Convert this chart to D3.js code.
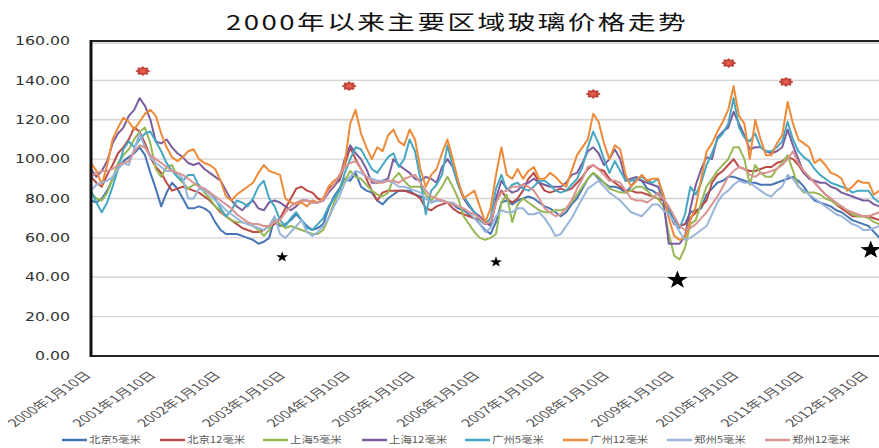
<!DOCTYPE html>
<html><head><meta charset="utf-8">
<script src="https://cdn.jsdelivr.net/npm/d3@7"></script>
<style>html,body{margin:0;padding:0;background:#fff;} svg{display:block;}</style>
</head><body><svg id="c" width="879" height="448"></svg>
<script>
const chartTitle = "2000年以来主要区域玻璃价格走势";
const seriesNames = ["北京5毫米","北京12毫米","上海5毫米","上海12毫米","广州5毫米","广州12毫米","郑州5毫米","郑州12毫米"];
const seriesColors = ["#4675B6","#BB4A46","#97B854","#7B5E9F","#45A8C3","#EE8A38","#9AB5DB","#D99492"];
const tickLabels = ["2000年1月10日","2001年1月10日","2002年1月10日","2003年1月10日","2004年1月10日","2005年1月10日","2006年1月10日","2007年1月10日","2008年1月10日","2009年1月10日","2010年1月10日","2011年1月10日","2012年1月10日"];
const yTicks = [0,20,40,60,80,100,120,140,160];

// monthly readings, Jan 2000 .. Mar 2012 (index = months since Jan 2000)
const bj5 = [
79,78,80,84,90,95,99,101,103,106,102,93,
85,76,83,88,85,80,75,75,76,75,73,68,
64,62,62,62,61,60,59,57,58,60,70,66,
67,69,72,69,66,64,65,67,75,81,85,90,
89,93,86,84,83,79,77,80,82,84,84,84,
82,81,80,78,79,79,78,77,75,74,72,70,
67,64,62,68,78,79,77,79,80,81,80,78,
76,75,73,71,73,77,80,85,90,93,90,88,
86,86,85,83,86,90,89,85,84,82,80,75,
69,66,67,73,74,75,82,85,88,89,91,91,
90,89,88,88,87,87,87,88,89,90,91,89,
86,82,79,78,77,76,74,73,71,69,68,67,
66,63,60];
const bj12 = [
91,88,86,92,97,103,106,110,116,114,108,101,
96,93,88,84,85,86,85,84,83,81,79,76,
73,71,69,67,65,64,63,63,64,66,67,70,
75,80,85,86,84,83,80,79,85,87,89,97,
106,100,95,90,84,79,83,84,84,84,84,83,
82,80,75,74,76,77,78,75,73,72,71,70,
69,67,67,78,84,80,78,80,84,90,93,88,
84,83,84,85,84,85,88,91,95,97,95,94,
90,88,86,84,84,83,83,82,81,80,79,73,
67,66,67,70,73,76,79,88,92,94,97,100,
96,95,94,94,95,96,96,98,99,101,100,97,
93,91,88,85,82,80,77,75,73,71,71,71,
71,70,69];
const sh5 = [
83,80,79,83,90,98,102,105,110,114,116,108,
95,91,96,97,91,88,85,87,87,83,80,76,
74,71,69,68,68,67,66,64,61,64,70,67,
65,66,65,64,63,62,62,64,70,78,84,89,
94,91,90,87,84,82,81,83,90,93,89,86,
86,86,82,79,82,86,91,86,80,71,67,63,
60,59,60,62,78,82,68,77,80,78,76,74,
73,73,74,74,75,78,82,86,90,93,91,88,
85,84,83,83,84,86,86,84,81,80,76,62,
51,49,55,67,69,78,86,90,94,97,100,106,
106,100,87,97,93,91,91,95,98,102,94,86,
83,83,83,82,80,79,77,76,74,72,71,71,
70,68,67];
const sh12 = [
95,91,94,99,108,113,116,122,125,131,127,120,
109,108,110,106,103,101,98,97,98,95,93,91,
89,84,79,76,74,77,79,75,74,78,79,78,
76,74,76,79,79,78,78,79,83,86,90,100,
107,103,100,95,88,88,89,90,100,97,95,93,
90,89,91,90,88,96,100,96,87,80,76,73,
71,68,66,80,89,85,83,84,87,88,90,88,
87,86,86,86,88,92,93,98,104,106,103,97,
100,105,100,89,90,91,89,88,87,86,79,57,
57,57,61,75,87,95,101,100,111,114,116,124,
118,112,105,106,106,104,103,104,106,115,107,100,
93,90,89,88,88,86,85,83,82,81,80,79,
79,77,76];
const gz5 = [
84,78,73,78,86,95,105,109,106,110,113,114,
109,104,98,94,91,89,92,92,86,85,83,80,
75,71,74,79,78,76,80,86,89,80,76,69,
66,70,73,69,65,64,67,70,76,80,84,93,
100,106,105,100,95,93,97,101,103,96,100,110,
104,90,72,84,87,92,107,96,87,81,77,73,
69,67,70,85,92,84,87,88,85,84,86,89,
89,87,84,83,84,87,90,96,106,114,108,100,
93,99,94,89,89,90,91,89,88,90,80,73,
68,65,72,86,82,88,97,103,110,113,118,131,
116,111,109,113,106,104,104,106,109,119,110,104,
101,99,95,92,90,88,87,86,85,83,84,84,
84,80,78];
const gz12 = [
98,94,87,97,110,116,121,119,115,119,123,125,
122,113,106,101,99,101,104,105,100,98,97,95,
89,81,79,82,84,86,88,93,97,94,93,92,
80,78,77,78,76,79,78,80,86,89,91,98,
118,125,113,106,100,106,104,112,115,109,107,115,
110,95,86,92,95,103,110,100,89,80,82,84,
76,68,75,92,106,92,90,95,90,94,96,90,
90,93,91,88,86,94,102,106,110,123,119,108,
100,107,105,92,86,89,92,89,90,90,82,70,
61,59,60,69,76,90,104,108,114,119,125,137,
122,118,100,120,110,102,102,108,112,129,118,110,
108,106,98,100,97,93,92,90,84,86,89,88,
88,82,84];
const zz5 = [
84,87,88,89,91,95,98,97,105,113,106,101,
98,96,94,94,93,90,80,80,85,84,82,79,
77,74,72,70,68,67,66,65,64,66,71,62,
60,63,66,69,63,61,63,66,70,76,81,88,
91,94,93,91,90,89,89,89,88,86,86,85,
84,83,80,78,79,79,78,78,76,75,73,70,
67,63,65,71,74,73,73,75,75,72,72,73,
70,66,61,62,66,70,75,80,85,87,89,86,
83,81,79,76,73,72,71,74,77,77,74,72,
68,63,59,60,62,64,66,72,78,82,84,87,
89,88,88,86,84,82,81,84,86,92,90,86,
84,82,80,78,76,74,72,71,69,67,66,64,
64,65,66];
const zz12 = [
91,93,94,94,95,97,98,99,104,107,106,102,
100,98,96,94,93,92,90,88,86,85,83,81,
79,77,75,72,70,68,67,67,66,66,68,69,
73,76,78,79,79,78,78,79,84,87,92,96,
98,99,95,91,89,88,88,89,89,88,90,91,
92,88,84,81,80,79,78,77,76,75,73,72,
70,67,68,78,83,84,86,86,87,86,84,80,
75,73,71,72,75,79,85,90,96,97,95,92,
89,89,88,84,80,79,79,78,80,83,80,76,
71,66,64,65,67,70,73,77,81,86,91,94,
96,95,92,91,93,93,94,95,97,100,104,98,
94,91,88,85,82,80,78,76,74,73,72,71,
71,72,73];

// annotation markers: [month index, value]
const peakMarks = [[9.6,144.7],[47.8,137.1],[93.0,133.1],[118.1,148.8],[128.7,139.2]];
const minorLows = [[35.4,50.3],[75.0,47.7]];
const majorLows = [[108.6,38.6],[144.4,53.8]];

const seriesData = [bj5,bj12,sh5,sh12,gz5,gz12,zz5,zz12];

const svg = d3.select("#c");
const L = 91, R = 879, T = 41, B = 356;
const x = d3.scaleLinear().domain([0,144]).range([L, 868.6]);
const y = d3.scaleLinear().domain([0,160]).range([B, T]);
const CJK = "'Noto Sans CJK SC','Noto Sans',sans-serif";

// title
svg.append("text")
  .attr("transform","translate(457,30) scale(1.38,1)")
  .attr("text-anchor","middle")
  .style("font-family",CJK).style("font-size","20px").style("letter-spacing","1.8px")
  .attr("fill","#111").text(chartTitle);

// gridlines
svg.append("g").selectAll("line").data(yTicks.filter(v=>v>0 && v<160)).join("line")
  .attr("x1",L).attr("x2",R).attr("y1",d=>y(d)).attr("y2",d=>y(d))
  .attr("stroke","#d4d4d4").attr("stroke-width",1.3);

// y labels
svg.append("g").selectAll("text").data(yTicks).join("text")
  .attr("transform",d=>`translate(70,${y(d)}) scale(1.37,1)`)
  .attr("text-anchor","end").attr("dy","0.36em")
  .style("font-family","'DejaVu Sans',sans-serif").style("font-size","11.5px")
  .attr("fill","#333").text(d=>d.toFixed(2));

// lines
svg.append("clipPath").attr("id","pc").append("rect").attr("x",L).attr("y",T-5).attr("width",R-L).attr("height",B-T+5);
const line = d3.line().x((d,i)=>x(i)).y(d=>y(d)).curve(d3.curveLinear);
const lg = svg.append("g").attr("clip-path","url(#pc)");
seriesData.forEach((s,k)=>{
  lg.append("path").datum(s).attr("d",line)
    .attr("fill","none").attr("stroke",seriesColors[k]).attr("stroke-width",2)
    .attr("stroke-linejoin","round").attr("stroke-linecap","round");
});

// frame
svg.append("line").attr("x1",L).attr("x2",R).attr("y1",T+2).attr("y2",T+2).attr("stroke","#bbb").attr("stroke-width",1);
svg.append("line").attr("x1",L).attr("x2",R).attr("y1",T).attr("y2",T).attr("stroke","#222").attr("stroke-width",2);
svg.append("line").attr("x1",L).attr("x2",R).attr("y1",B).attr("y2",B).attr("stroke","#222").attr("stroke-width",2);
svg.append("line").attr("x1",L).attr("x2",L).attr("y1",T-1).attr("y2",B+1).attr("stroke","#111").attr("stroke-width",3);

// x labels
svg.append("g").selectAll("text").data(tickLabels).join("text")
  .attr("transform",(d,i)=>`translate(${x(i*12)+1},${B+20}) scale(1.5,1) rotate(-45)`)
  .attr("text-anchor","end")
  .style("font-family",CJK).style("font-size","10.6px")
  .attr("fill","#555").text(d=>d);

// peak markers (red bursts)
const burst = (w,h)=>{
  const pts=[];
  for(let i=0;i<16;i++){const a=i*Math.PI/8, r=i%2?0.7:1; pts.push([r*Math.cos(a)*w/2, r*Math.sin(a)*h/2]);}
  return "M"+pts.map(p=>p.join(",")).join("L")+"Z";
};
const defs = svg.append("defs");
const rg = defs.append("radialGradient").attr("id","rg");
rg.append("stop").attr("offset","0%").attr("stop-color","#ee6a5a");
rg.append("stop").attr("offset","100%").attr("stop-color","#b32a22");
svg.append("g").selectAll("path").data(peakMarks).join("path")
  .attr("transform",d=>`translate(${x(d[0])},${y(d[1])})`)
  .attr("d",burst(14,9)).attr("fill","url(#rg)").attr("stroke","#a52a22").attr("stroke-width",0.6);

// low markers (black stars)
const star = (Rr)=>{
  const pts=[];
  for(let i=0;i<10;i++){const a=-Math.PI/2+i*Math.PI/5, r=i%2?Rr*0.4:Rr; pts.push([r*Math.cos(a), r*Math.sin(a)]);}
  return "M"+pts.map(p=>p.join(",")).join("L")+"Z";
};
svg.append("g").selectAll("path").data(minorLows).join("path")
  .attr("transform",d=>`translate(${x(d[0])},${y(d[1])}) scale(1.15,1)`)
  .attr("d",star(5.5)).attr("fill","#000");
svg.append("g").selectAll("path").data(majorLows).join("path")
  .attr("transform",d=>`translate(${x(d[0])},${y(d[1])}) scale(1.15,1)`)
  .attr("d",star(9.5)).attr("fill","#000");

// legend
const legX = [62,160,263,362,465,563,667,765];
const lgd = svg.append("g").selectAll("g").data(seriesNames).join("g")
  .attr("transform",(d,i)=>`translate(${legX[i]},440)`);
lgd.append("line").attr("x1",0).attr("x2",25).attr("y1",0).attr("y2",0)
  .attr("stroke",(d,i)=>seriesColors[i]).attr("stroke-width",2.5);
lgd.append("text").attr("transform","translate(27,0) scale(1.2,1)").attr("dy","0.36em")
  .style("font-family",CJK).style("font-size","9.5px").attr("fill","#595959").text(d=>d);
</script></body></html>
